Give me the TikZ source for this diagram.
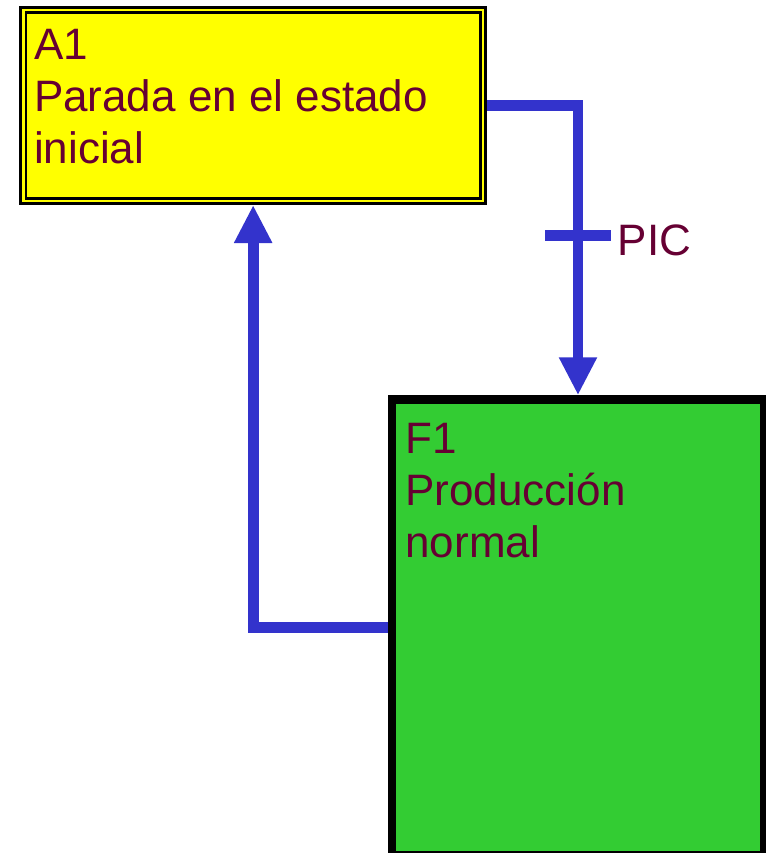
\documentclass[tikz,border=0pt]{standalone}
\usepackage{fontspec}
\setmainfont{Liberation Sans}
\usetikzlibrary{arrows.meta}
\definecolor{txtc}{RGB}{102,0,51}
\definecolor{conn}{RGB}{51,51,204}
\definecolor{fgreen}{RGB}{51,204,51}
\definecolor{fyellow}{RGB}{255,255,0}
\begin{document}
\begin{tikzpicture}[x=1pt,y=-1pt,
  txt/.style={anchor=base west,inner sep=0,outer sep=0,text=txtc,align=left,
    font=\fontsize{44}{52}\selectfont},
  initbox/.style={draw=black,line width=2.7pt,double=fyellow,double distance=2.7pt,
    fill=fyellow,rectangle,inner sep=0,outer sep=4pt,minimum width=459.7pt,minimum height=191pt},
  stepbox/.style={draw=black,line width=8.5pt,fill=fgreen,rectangle,inner sep=0,
    outer sep=4.25pt,minimum width=372pt,minimum height=455.5pt},
  link/.style={draw=conn,line width=10.7pt,-{Triangle[width=35.6pt,length=38pt]}},
  tick/.style={draw=conn,line width=11pt}]
\useasboundingbox (0,0) rectangle (765,853);
\node[initbox] (A1) at (253.15,105.5) {};
\node[stepbox] (F1) at (578,627.25) {};
\node[txt] (A1t) at (34,164) {A1\\Parada en el estado\\inicial};
\node[txt] (F1t) at (405.5,557.3) {F1\\Producción\\normal};
\draw[link] (A1.east) -| (F1.north);
\draw[link] (F1.west) -| (A1.south);
\coordinate (tk) at (F1.north |- 0,235);
\draw[tick] ([xshift=-33pt]tk) -- ([xshift=33pt]tk);
\node[txt] (pic) at (617.7,255.7) {PIC};
\end{tikzpicture}
\end{document}
